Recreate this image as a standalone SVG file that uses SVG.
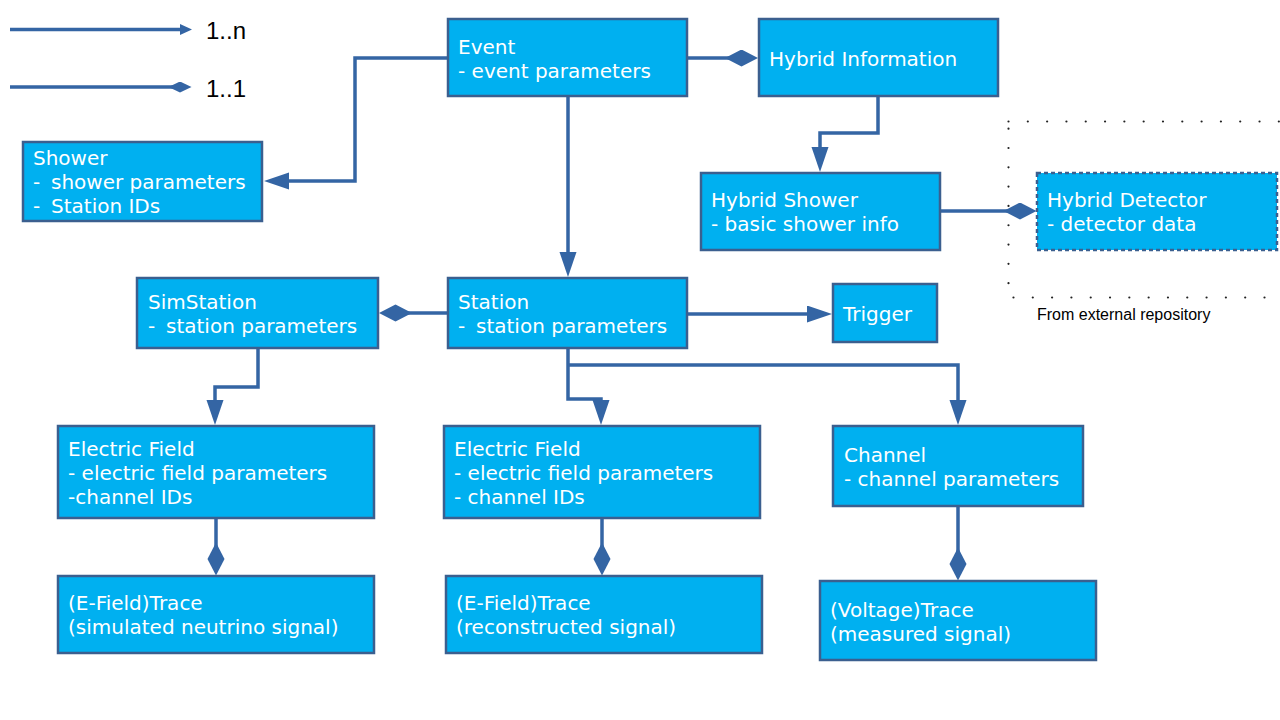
<svg xmlns="http://www.w3.org/2000/svg" width="1280" height="720" viewBox="0 0 1280 720">
  <defs>
    <style>
      .box { fill: #00b0f0; stroke: #3b5f8f; stroke-width: 2.5; }
      .ext { fill: #00b0f0; stroke: #3b5f8f; stroke-width: 2.5; stroke-dasharray: 4 3; }
      .t { font-family: "DejaVu Sans", sans-serif; font-size: 20px; fill: #ffffff; }
      .lg { font-family: "Liberation Sans", Arial, sans-serif; font-size: 24px; fill: #000000; }
      .note { font-family: "Liberation Sans", Arial, sans-serif; font-size: 16px; fill: #000000; }
      .con { fill: none; stroke: #3465a4; stroke-width: 3.5; stroke-linejoin: miter; }
      .dots { fill: none; stroke: #222222; stroke-width: 2.2; stroke-dasharray: 0.01 19.3; stroke-linecap: round; }
    </style>
    <marker id="arrow" markerUnits="userSpaceOnUse" markerWidth="26" markerHeight="18" refX="15" refY="8.5" orient="auto">
      <path d="M0,0 L25,8.5 L0,17 z" fill="#3465a4"/>
    </marker>
    <marker id="diamond" markerUnits="userSpaceOnUse" markerWidth="34" markerHeight="18" refX="16.5" refY="8.5" orient="auto">
      <path d="M0,8.5 L16.5,0 L33,8.5 L16.5,17 z" fill="#3465a4"/>
    </marker>
    <marker id="arrowS" markerUnits="userSpaceOnUse" markerWidth="13" markerHeight="12" refX="6" refY="5.5" orient="auto">
      <path d="M0,0 L12,5.5 L0,11 z" fill="#3465a4"/>
    </marker>
    <marker id="diamondS" markerUnits="userSpaceOnUse" markerWidth="24" markerHeight="12" refX="11.5" refY="5.5" orient="auto">
      <path d="M0,5.5 L11.5,0 L23,5.5 L11.5,11 z" fill="#3465a4"/>
    </marker>
  </defs>

  <rect width="1280" height="720" fill="#ffffff"/>

  <!-- legend -->
  <g id="legend">
    <path class="con" d="M10,29.5 H186" marker-end="url(#arrowS)"/>
    <text class="lg" x="206" y="39">1..n</text>
    <path class="con" d="M10,87 H180" marker-end="url(#diamondS)"/>
    <text class="lg" x="206" y="97">1..1</text>
  </g>

  <!-- external repository frame -->
  <g id="external">
    <rect class="dots" x="1008.5" y="121.5" width="320" height="176"/>
    <text class="note" x="1037" y="320">From external repository</text>
  </g>

  <!-- connectors -->
  <g id="connectors">
    <path class="con" d="M448,58 H355 V181 H274" marker-end="url(#arrow)"/>
    <path class="con" d="M568,97 V267" marker-end="url(#arrow)"/>
    <path class="con" d="M688,58 H741.5" marker-end="url(#diamond)"/>
    <path class="con" d="M878,97 V133 H820 V162" marker-end="url(#arrow)"/>
    <path class="con" d="M941,211 H1020" marker-end="url(#diamond)"/>
    <path class="con" d="M448,313 H395.5" marker-end="url(#diamond)"/>
    <path class="con" d="M688,314 H822" marker-end="url(#arrow)"/>
    <path class="con" d="M258,349 V387 H215 V415" marker-end="url(#arrow)"/>
    <path class="con" d="M568,349 V399 H601 V415" marker-end="url(#arrow)"/>
    <path class="con" d="M568,365 H958 V415" marker-end="url(#arrow)"/>
    <path class="con" d="M216,519 V559" marker-end="url(#diamond)"/>
    <path class="con" d="M602,519 V559" marker-end="url(#diamond)"/>
    <path class="con" d="M958,507 V564" marker-end="url(#diamond)"/>
  </g>

  <g id="event">
    <rect class="box" x="448" y="19" width="239" height="77"/>
    <text class="t" x="458" y="54">Event</text>
    <text class="t" x="458" y="78">- event parameters</text>
  </g>

  <g id="hybrid-information">
    <rect class="box" x="759" y="19" width="239" height="77"/>
    <text class="t" x="769" y="66">Hybrid Information</text>
  </g>

  <g id="shower">
    <rect class="box" x="23" y="142" width="239" height="79"/>
    <text class="t" x="33" y="165">Shower</text>
    <text class="t" x="33" y="189">-<tspan x="51">shower parameters</tspan></text>
    <text class="t" x="33" y="213">-<tspan x="51">Station IDs</tspan></text>
  </g>

  <g id="hybrid-shower">
    <rect class="box" x="701" y="173" width="239" height="77"/>
    <text class="t" x="711" y="207">Hybrid Shower</text>
    <text class="t" x="711" y="231">- basic shower info</text>
  </g>

  <g id="hybrid-detector">
    <rect class="ext" x="1037" y="173" width="240" height="77"/>
    <text class="t" x="1047" y="207">Hybrid Detector</text>
    <text class="t" x="1047" y="231">- detector data</text>
  </g>

  <g id="simstation">
    <rect class="box" x="137" y="278" width="241" height="70"/>
    <text class="t" x="148" y="309">SimStation</text>
    <text class="t" x="148" y="333">-<tspan x="166">station parameters</tspan></text>
  </g>

  <g id="station">
    <rect class="box" x="448" y="278" width="239" height="70"/>
    <text class="t" x="458" y="309">Station</text>
    <text class="t" x="458" y="333">-<tspan x="476">station parameters</tspan></text>
  </g>

  <g id="trigger">
    <rect class="box" x="833" y="284" width="104" height="58"/>
    <text class="t" x="843" y="321">Trigger</text>
  </g>

  <g id="efield-sim">
    <rect class="box" x="58" y="426" width="316" height="92"/>
    <text class="t" x="68" y="456">Electric Field</text>
    <text class="t" x="68" y="480">- electric field parameters</text>
    <text class="t" x="68" y="504">-channel IDs</text>
  </g>

  <g id="efield-reco">
    <rect class="box" x="444" y="426" width="316" height="92"/>
    <text class="t" x="454" y="456">Electric Field</text>
    <text class="t" x="454" y="480">- electric field parameters</text>
    <text class="t" x="454" y="504">- channel IDs</text>
  </g>

  <g id="channel">
    <rect class="box" x="833" y="426" width="250" height="80"/>
    <text class="t" x="844" y="462">Channel</text>
    <text class="t" x="844" y="486">- channel parameters</text>
  </g>

  <g id="trace-sim">
    <rect class="box" x="58" y="576" width="316" height="77"/>
    <text class="t" x="68" y="610">(E-Field)Trace</text>
    <text class="t" x="68" y="634">(simulated neutrino signal)</text>
  </g>

  <g id="trace-reco">
    <rect class="box" x="446" y="576" width="316" height="77"/>
    <text class="t" x="456" y="610">(E-Field)Trace</text>
    <text class="t" x="456" y="634">(reconstructed signal)</text>
  </g>

  <g id="trace-voltage">
    <rect class="box" x="820" y="581" width="276" height="79"/>
    <text class="t" x="830" y="617">(Voltage)Trace</text>
    <text class="t" x="830" y="641">(measured signal)</text>
  </g>
</svg>
